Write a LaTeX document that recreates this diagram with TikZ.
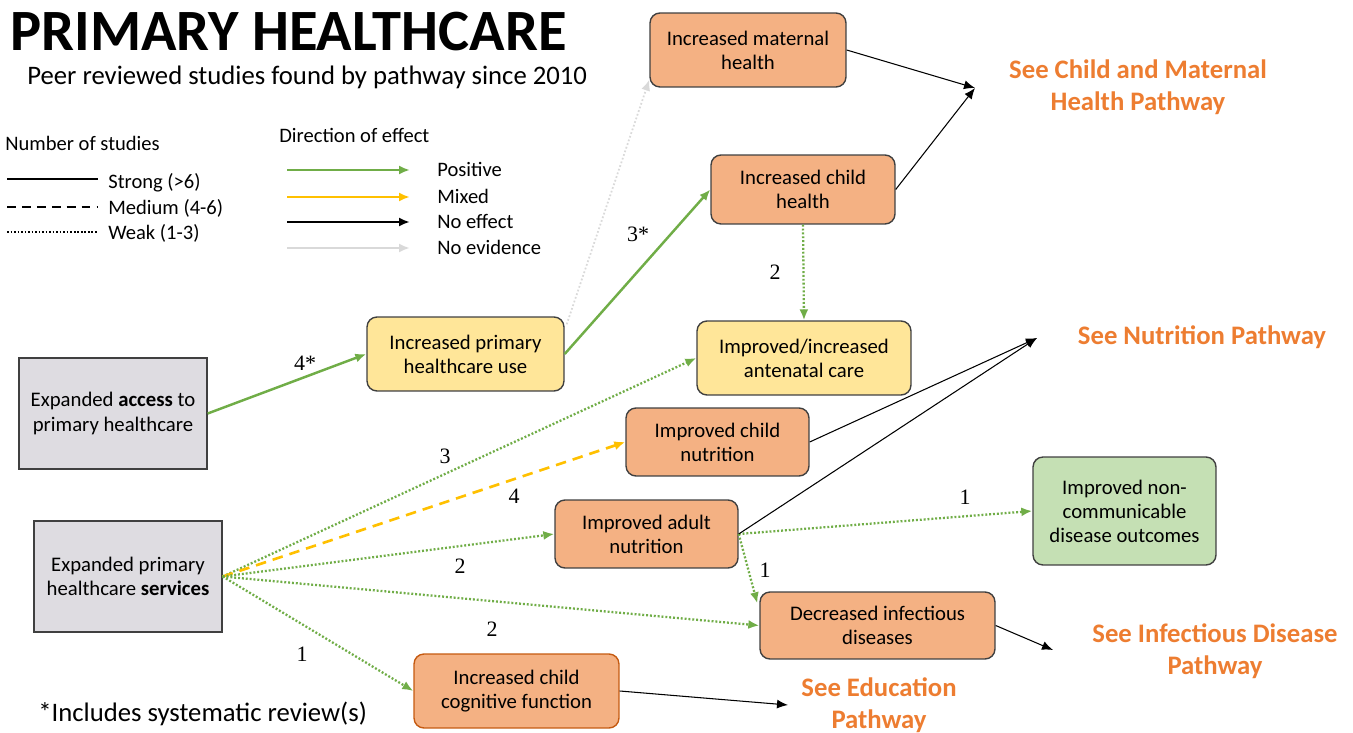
\documentclass[tikz,border=0pt]{standalone}
\usepackage{fontspec}
\setmainfont{Carlito}
\newfontfamily\numfont{Liberation Serif}
\usetikzlibrary{arrows.meta,calc}

\definecolor{boxorange}{HTML}{F4B183}
\definecolor{boxyellow}{HTML}{FFE699}
\definecolor{boxgreen}{HTML}{C5E0B4}
\definecolor{boxgray}{HTML}{DEDCE1}
\definecolor{pathorange}{HTML}{ED7D31}
\definecolor{edgeorange}{HTML}{C55A11}
\definecolor{effgreen}{HTML}{70AD47}
\definecolor{effyellow}{HTML}{FFC000}
\definecolor{effgray}{HTML}{D9D9D9}

\tikzset{
  box/.style={draw=black!75, line width=0.8pt, rounded corners=0.2cm, align=center,
    inner sep=0pt, font=\fontsize{11.8}{13.7}\selectfont},
  startbox/.style={box, rounded corners=0pt, fill=boxgray},
  pathlabel/.style={text=pathorange, align=center, inner sep=0pt,
    font=\fontsize{15.2}{18}\selectfont\bfseries},
  numlabel/.style={inner sep=0pt, font=\fontsize{12.5}{14}\selectfont\numfont},
  legtext/.style={anchor=west, inner sep=0pt, font=\fontsize{11.7}{13}\selectfont},
  tip/.style={-{Latex[length=2.2mm,width=1.8mm]}},
  positive/.style={tip, draw=effgreen, line width=1.4pt},
  weak/.style={positive, line width=1.3pt, dash pattern=on 1.1pt off 1.1pt},
  mixed/.style={tip, draw=effyellow, line width=1.5pt, dash pattern=on 6pt off 4pt},
  noeffect/.style={tip, draw=black, line width=0.6pt},
  noevidence/.style={tip, draw=effgray, line width=1pt, dash pattern=on 1pt off 1.2pt}
}

\begin{document}
\begin{tikzpicture}[x=0.02cm, y=-0.02cm]
  \useasboundingbox (0,0) rectangle (1353,733);

  % Title
  \node[anchor=west, inner sep=0pt, font=\fontsize{33.3}{38}\selectfont\bfseries] (title) at (10,32) {PRIMARY HEALTHCARE};
  \node[anchor=west, inner sep=0pt, font=\fontsize{15.2}{17}\selectfont] (subtitle) at (27,77) {Peer reviewed studies found by pathway since 2010};

  % Legend: number of studies
  \node[legtext] (numhead) at (5,143) {Number of studies};
  \draw[line width=1.2pt] (7,179) -- (98,179);
  \draw[line width=1.2pt, dash pattern=on 5pt off 3.5pt] (7,207) -- (98,207);
  \draw[line width=1.2pt, dash pattern=on 1pt off 1pt] (7,232) -- (98,232);
  \node[legtext] (strong) at (108,183) {Strong (>6)};
  \node[legtext] (medium) at (108,208) {Medium (4-6)};
  \node[legtext] (weakleg) at (108,233) {Weak (1-3)};

  % Legend: direction of effect
  \node[legtext] (dirhead) at (279,135) {Direction of effect};
  \foreach \y/\c/\t in {170/effgreen/Positive, 197/effyellow/Mixed, 222/black/No effect, 248/effgray/No evidence}{
    \draw[tip, draw=\c, line width=1.4pt] (287,\y) -- (410,\y);
    \node[legtext] at (437,\y-1) {\t};
  }

  % Boxes
  \node[startbox, minimum width=3.76cm, minimum height=2.22cm] (access) at (113,413.5) {Expanded \textbf{access} to\\primary healthcare};
  \node[startbox, minimum width=3.76cm, minimum height=2.22cm] (services) at (128,576.5) {Expanded primary\\healthcare \textbf{services}};
  \node[box, fill=boxyellow, minimum width=3.94cm, minimum height=1.48cm] (primuse) at (465.5,354) {Increased primary\\healthcare use};
  \node[box, fill=boxorange, minimum width=3.92cm, minimum height=1.48cm] (matern) at (748,50) {Increased maternal\\health};
  \node[box, fill=boxorange, minimum width=3.68cm, minimum height=1.38cm] (childh) at (803,189.5) {Increased child\\health};
  \node[box, fill=boxyellow, minimum width=4.28cm, minimum height=1.48cm] (antenatal) at (804,358) {Improved/increased\\antenatal care};
  \node[box, fill=boxorange, minimum width=3.66cm, minimum height=1.36cm] (childnut) at (717.5,442) {Improved child\\nutrition};
  \node[box, fill=boxorange, minimum width=3.66cm, minimum height=1.36cm] (adultnut) at (646.5,534) {Improved adult\\nutrition};
  \node[box, fill=boxgreen, minimum width=3.66cm, minimum height=2.16cm] (ncd) at (1124.5,511) {Improved non-\\communicable\\disease outcomes};
  \node[box, fill=boxorange, minimum width=4.70cm, minimum height=1.34cm] (infect) at (877.5,625.5) {Decreased infectious\\diseases};
  \node[box, fill=boxorange, draw=edgeorange, minimum width=4.10cm, minimum height=1.48cm] (cognit) at (516.5,691) {Increased child\\cognitive function};

  % Other pathways
  \node[pathlabel] (cmpath) at (1138,87) {See Child and Maternal\\Health Pathway};
  \node[pathlabel] (nutpath) at (1202,337) {See Nutrition Pathway};
  \node[pathlabel] (infpath) at (1215,651) {See Infectious Disease\\Pathway};
  \node[pathlabel] (edupath) at (879,705) {See Education\\Pathway};
  \coordinate (cmend) at (975,88);
  \coordinate (nutend) at (1037,338);
  \coordinate (infend) at (1053,650);
  \coordinate (eduend) at (788,705);

  % Footnote
  \node[anchor=west, inner sep=0pt, font=\fontsize{15.2}{17}\selectfont] (footnote) at (38,714) {*Includes systematic review(s)};

  % Effects
  \draw[positive] (access.east) -- (primuse.west);
  \draw[positive] (primuse.east) -- (childh.west);
  \draw[noevidence] ($(primuse.north east)+(2,8)$) -- ($(matern.south west)+(0,-8)$);
  \draw[weak] (childh.south) -- (antenatal.north);
  \draw[weak] (services.east) -- (antenatal.west);
  \draw[mixed] (services.east) -- (childnut.west);
  \draw[weak] (services.east) -- (adultnut.west);
  \draw[weak] (services.east) -- (infect.west);
  \draw[weak] (services.east) -- (cognit.west);
  \draw[weak] (adultnut.east) -- (ncd.west);
  \draw[weak] (adultnut.east) -- ($(infect.north west)+(-2,12)$);

  % No effect / onward pathways
  \draw[noeffect] (matern.east) -- (cmend);
  \draw[noeffect] (childh.east) -- (cmend);
  \draw[noeffect] (childnut.east) -- (nutend);
  \draw[noeffect] (adultnut.east) -- (nutend);
  \draw[noeffect] (infect.east) -- (infend);
  \draw[noeffect] (cognit.east) -- (eduend);

  % Numbers of studies
  \node[numlabel] (n1) at (305,363) {4*};
  \node[numlabel] (n2) at (638,234) {3*};
  \node[numlabel] (n3) at (775,272) {2};
  \node[numlabel] (n4) at (445,456) {3};
  \node[numlabel] (n5) at (514,496) {4};
  \node[numlabel] (n6) at (460,566) {2};
  \node[numlabel] (n7) at (492,629) {2};
  \node[numlabel] (n8) at (302,654) {1};
  \node[numlabel] (n9) at (965,497) {1};
  \node[numlabel] (n10) at (765,570) {1};
\end{tikzpicture}
\end{document}
